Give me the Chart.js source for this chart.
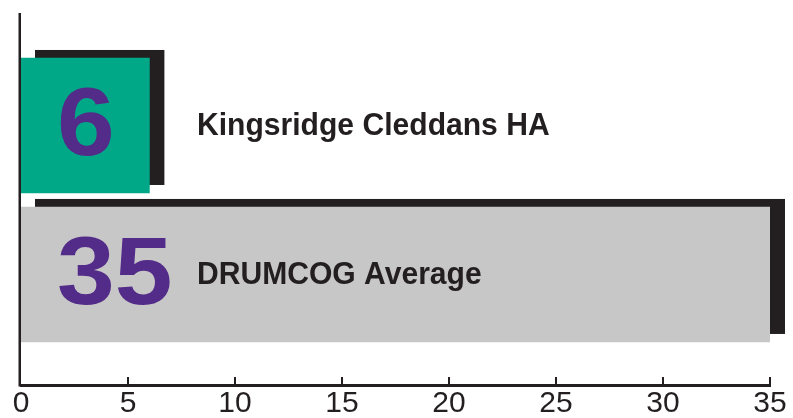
<!DOCTYPE html>
<html>
<head>
<meta charset="utf-8">
<script src="https://cdn.jsdelivr.net/npm/chart.js@4"></script>
<style>
html,body{margin:0;padding:0;background:#fff;}
#wrap{width:793px;height:418px;position:relative;}
</style>
</head>
<body>
<div id="wrap"><canvas id="c" width="793" height="418"></canvas></div>
<script>
// ---- data ----
const categories = ["Kingsridge Cleddans HA", "DRUMCOG Average"];
const values = [6, 35];
const barColors = ["#00A888", "#C8C7C8"];
const xTicks = [0, 5, 10, 15, 20, 25, 30, 35];

// ---- style ----
const INK = "#231F20";
const PURPLE = "#532B88";
const SHADOW = "#231F20";

const shadowPlugin = {
  id: 'barShadow',
  beforeDatasetsDraw(chart) {
    const ctx = chart.ctx;
    const meta = chart.getDatasetMeta(0);
    ctx.save();
    ctx.fillStyle = SHADOW;
    meta.data.forEach(bar => {
      const p = bar.getProps(['x', 'y', 'base', 'height'], true);
      ctx.fillRect(p.base + 14, p.y - p.height / 2 - 8, p.x - p.base + 1, p.height);
    });
    ctx.restore();
  }
};

const labelPlugin = {
  id: 'barLabels',
  afterDatasetsDraw(chart) {
    const ctx = chart.ctx;
    const meta = chart.getDatasetMeta(0);
    const area = chart.chartArea;
    ctx.save();
    meta.data.forEach((bar, i) => {
      const p = bar.getProps(['y'], true);
      // big value number
      ctx.save();
      ctx.fillStyle = PURPLE;
      ctx.textAlign = 'left';
      ctx.textBaseline = 'alphabetic';
      ctx.font = 'bold 97px "Liberation Sans", Arial, sans-serif';
      ctx.translate(area.left + 36, p.y + 30);
      ctx.scale(1.07, 1);
      ctx.fillText(String(values[i]), 0, 0);
      ctx.restore();
      // category label
      ctx.fillStyle = INK;
      ctx.textAlign = 'left';
      ctx.textBaseline = 'alphabetic';
      ctx.font = 'bold 32px "Liberation Sans", Arial, sans-serif';
      const lw = ctx.measureText(categories[i]).width;
      ctx.fillText(categories[i], area.left + 176, p.y + 10, lw * 0.94);
    });
    // y axis line
    ctx.strokeStyle = INK;
    ctx.lineWidth = 2.5;
    ctx.beginPath();
    ctx.moveTo(area.left - 1.25, area.top);
    ctx.lineTo(area.left - 1.25, area.bottom + 1.5);
    ctx.stroke();
    // inward tick marks on x axis
    const xs = chart.scales.x;
    ctx.lineWidth = 2;
    xTicks.forEach(v => {
      if (v === 0) return;
      const px = xs.getPixelForValue(v);
      ctx.beginPath();
      ctx.moveTo(px, area.bottom);
      ctx.lineTo(px, area.bottom - 8);
      ctx.stroke();
    });
    ctx.restore();
  }
};

new Chart(document.getElementById('c'), {
  type: 'bar',
  data: {
    labels: categories,
    datasets: [{
      data: values.map((v, i) => ({ x: v, y: i })),
      backgroundColor: barColors,
      borderWidth: 0,
      barThickness: 135
    }]
  },
  options: {
    indexAxis: 'y',
    responsive: false,
    animation: false,
    layout: { padding: { left: 21, top: 13, right: 23, bottom: 0 } },
    plugins: { legend: { display: false }, tooltip: { enabled: false } },
    scales: {
      x: {
        type: 'linear',
        min: 0,
        max: 35,
        afterBuildTicks(scale) { scale.ticks = xTicks.map(v => ({ value: v })); },
        afterFit(scale) { scale.height = 33; scale.paddingRight = 0; scale.paddingLeft = 0; },
        grid: { display: false, drawTicks: false },
        border: { display: true, color: INK, width: 3 },
        ticks: {
          color: INK,
          padding: 4,
          font: { family: '"Liberation Sans", Arial, sans-serif', size: 30, lineHeight: 1.0 },
          maxRotation: 0,
          autoSkip: false
        }
      },
      y: {
        type: 'linear',
        display: false,
        offset: false,
        grid: { offset: false },
        reverse: true,
        min: -0.755,
        max: 1.742
      }
    }
  },
  plugins: [shadowPlugin, labelPlugin]
});
</script>
</body>
</html>
